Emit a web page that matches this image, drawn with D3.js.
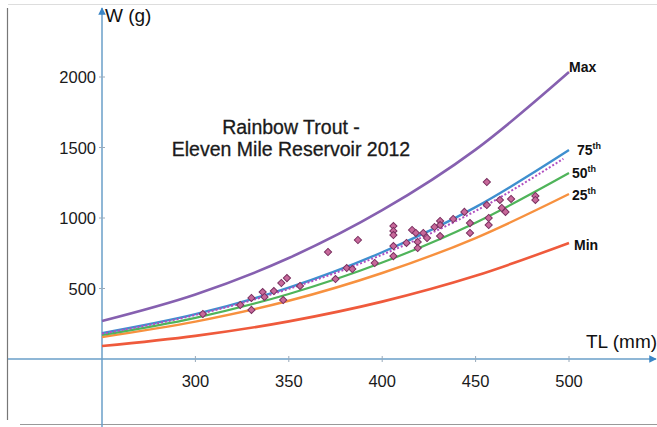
<!DOCTYPE html>
<html>
<head>
<meta charset="utf-8">
<script src="https://cdn.jsdelivr.net/npm/d3@7"></script>
<style>
  body { margin: 0; background: #fff; }
  svg { display: block; font-family: "Liberation Sans", Arial, sans-serif; }
  .tick-label { font-size: 16.5px; fill: #1a1a1a; }
  .curve-label { font-family: "Liberation Sans Narrow", "Liberation Sans", Arial, sans-serif; font-weight: bold; font-size: 14px; fill: #111; }
</style>
</head>
<body>
<script>
var lengths = [250, 300, 350, 400, 450, 500];

// standard weight curves (g)
var maxW   = [270, 458, 716, 1055, 1485, 2035];
var p75W   = [184, 318, 506, 757, 1077, 1482];
var p50W   = [170, 292, 461, 684, 967, 1319];
var p25W   = [156, 265, 413, 610, 858, 1170];
var minW   = [92, 164, 267, 407, 590, 823];
var fitW   = [180, 312, 497, 740, 1050, 1420];

// sampled fish: total length (mm) and weight (g)
var fishTL = [304, 324, 330, 330, 336, 337, 342, 346, 349, 347, 356, 371, 375, 381, 384, 387, 396,
  406, 406, 406, 406, 406, 413, 416, 418, 419, 419, 422, 424, 428, 431, 431, 431, 438, 444, 447, 447,
  456, 456, 457, 457, 463, 464, 466, 469, 482, 482];
var fishW = [319, 383, 433, 348, 475, 440, 482, 539, 574, 418, 518, 759, 567, 645, 638, 844, 681,
  943, 908, 879, 801, 730, 823, 915, 894, 830, 787, 894, 858, 936, 979, 950, 872, 993, 1043, 964, 894,
  1255, 1092, 1000, 950, 1128, 1071, 1043, 1135, 1156, 1128];

var xTicks = [300, 350, 400, 450, 500];
var yTicks = [500, 1000, 1500, 2000];

var width = 657, height = 427;

var svg = d3.select("body").append("svg")
    .attr("width", width)
    .attr("height", height);

// axes cross at TL=250, W=0
var x = d3.scaleLinear().domain([250, 500]).range([102, 569]);
var y = d3.scaleLinear().domain([0, 2000]).range([359, 77]);

var axisColor = "#6a9fc9";

// scanned page frame
svg.append("line").attr("x1", 7.5).attr("x2", 7.5).attr("y1", 8).attr("y2", 420)
    .attr("stroke", "#777").attr("stroke-width", 1.2);
svg.append("line").attr("x1", 8).attr("x2", 657).attr("y1", 4.5).attr("y2", 4.5)
    .attr("stroke", "#ddd").attr("stroke-width", 1);
svg.append("line").attr("x1", 20).attr("x2", 657).attr("y1", 424.5).attr("y2", 424.5)
    .attr("stroke", "#999").attr("stroke-width", 1);

var defs = svg.append("defs");
defs.append("marker")
    .attr("id", "arrow")
    .attr("viewBox", "0 0 10 10")
    .attr("refX", 9).attr("refY", 5)
    .attr("markerWidth", 5).attr("markerHeight", 5)
    .attr("orient", "auto")
  .append("path")
    .attr("d", "M0,0L10,5L0,10Z")
    .attr("fill", "#3b86c6");

// x axis line
svg.append("line")
    .attr("x1", 8).attr("x2", 656)
    .attr("y1", y(0)).attr("y2", y(0))
    .attr("stroke", axisColor).attr("stroke-width", 1.5)
    .attr("marker-end", "url(#arrow)");

// y axis line
svg.append("line")
    .attr("x1", x(250)).attr("x2", x(250))
    .attr("y1", height).attr("y2", 8)
    .attr("stroke", axisColor).attr("stroke-width", 1.5)
    .attr("marker-end", "url(#arrow)");

// ticks + labels
svg.selectAll(".xtick").data(xTicks).enter().append("line")
    .attr("class", "xtick")
    .attr("x1", function(d){ return x(d); }).attr("x2", function(d){ return x(d); })
    .attr("y1", y(0) - 3).attr("y2", y(0) + 3)
    .attr("stroke", "#9ab") .attr("stroke-width", 1);

svg.selectAll(".xlab").data(xTicks).enter().append("text")
    .attr("class", "tick-label")
    .attr("x", function(d){ return x(d); })
    .attr("y", y(0) + 28)
    .attr("text-anchor", "middle")
    .text(function(d){ return d; });

svg.selectAll(".ytick").data(yTicks).enter().append("line")
    .attr("class", "ytick")
    .attr("x1", x(250) - 3).attr("x2", x(250) + 3)
    .attr("y1", function(d){ return y(d); }).attr("y2", function(d){ return y(d); })
    .attr("stroke", "#9ab").attr("stroke-width", 1);

svg.selectAll(".ylab").data(yTicks).enter().append("text")
    .attr("class", "tick-label")
    .attr("x", x(250) - 6)
    .attr("y", function(d){ return y(d) + 6; })
    .attr("text-anchor", "end")
    .text(function(d){ return d; });

// axis titles
svg.append("text")
    .attr("x", 105).attr("y", 22)
    .style("font-size", "19px").style("fill", "#111")
    .text("W (g)");

svg.append("text")
    .attr("x", 586).attr("y", 348)
    .style("font-size", "19px").style("fill", "#111")
    .text("TL (mm)");

// chart title
var title = svg.append("text")
    .attr("text-anchor", "middle")
    .style("font-size", "19.5px").style("fill", "#1a1a1a")
    .style("stroke", "#1a1a1a").style("stroke-width", 0.3);
title.append("tspan").attr("x", 291).attr("y", 134).text("Rainbow Trout -");
title.append("tspan").attr("x", 291).attr("y", 156).text("Eleven Mile Reservoir 2012");

// curves
var line = d3.line()
    .x(function(d){ return x(d[0]); })
    .y(function(d){ return y(d[1]); })
    .curve(d3.curveMonotoneX);

function pairs(vals){
    return lengths.map(function(l, i){ return [l, vals[i]]; });
}

var curves = [
    {vals: minW, color: "#ef5a3c", w: 2.6},
    {vals: p25W, color: "#f7913f", w: 2.4},
    {vals: p50W, color: "#4fb45a", w: 2.2},
    {vals: p75W, color: "#3f8fcf", w: 2.4},
    {vals: maxW, color: "#8660b0", w: 2.6}
];

svg.selectAll(".curve").data(curves).enter().append("path")
    .attr("class", "curve")
    .attr("d", function(d){ return line(pairs(d.vals)); })
    .attr("fill", "none")
    .attr("stroke", function(d){ return d.color; })
    .attr("stroke-width", function(d){ return d.w; });

// dotted trend through the sample
svg.append("path")
    .attr("d", line(pairs(fitW).map(function(p, i){ return i === lengths.length - 1 ? [497, p[1]] : p; })))
    .attr("fill", "none")
    .attr("stroke", "#b04fc0")
    .attr("stroke-width", 2)
    .attr("stroke-dasharray", "2,2");

// fish points (rotated squares)
var pts = fishTL.map(function(l, i){ return [l, fishW[i]]; });
svg.selectAll(".fish").data(pts).enter().append("path")
    .attr("class", "fish")
    .attr("d", d3.symbol().type(d3.symbolSquare).size(26))
    .attr("transform", function(d){ return "translate(" + x(d[0]) + "," + y(d[1]) + ") rotate(45)"; })
    .attr("fill", "#c8689a")
    .attr("stroke", "#7a3060")
    .attr("stroke-width", 1);

// curve end labels
var endLabels = [
    {name: "Max", sup: "", x: 569, y: 72},
    {name: "75", sup: "th", x: 577, y: 155},
    {name: "50", sup: "th", x: 572, y: 178},
    {name: "25", sup: "th", x: 572, y: 200},
    {name: "Min", sup: "", x: 574, y: 250}
];

endLabels.forEach(function(d){
    var t = svg.append("text").attr("class", "curve-label")
        .attr("x", d.x).attr("y", d.y);
    t.append("tspan").text(d.name);
    if (d.sup) {
        t.append("tspan").attr("dy", -6).style("font-size", "9px").text(d.sup);
    }
});
</script>
</body>
</html>
